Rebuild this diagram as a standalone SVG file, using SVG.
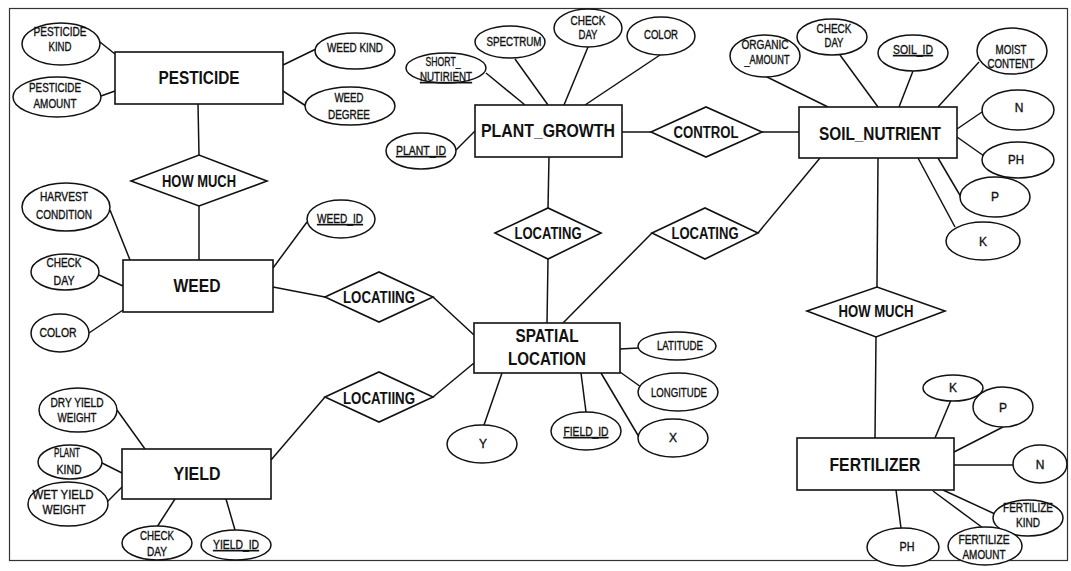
<svg xmlns="http://www.w3.org/2000/svg" width="1071" height="571" viewBox="0 0 1071 571">
  <style>
    .frame { fill: none; stroke: #333; stroke-width: 1.2; }
    .ent { fill: #fff; stroke: #111; stroke-width: 1.6; }
    .rel { fill: #fff; stroke: #111; stroke-width: 1.6; }
    .att { fill: #fff; stroke: #111; stroke-width: 1.5; }
    .links line { stroke: #111; stroke-width: 1.5; fill: none; }
    text { font-family: "Liberation Sans", Arial, sans-serif; fill: #111; text-anchor: middle; }
    .te { font-size: 18px; font-weight: bold; }
    .tr { font-size: 16px; font-weight: bold; }
    .ta { font-size: 12px; stroke: #111; stroke-width: 0.35; }
    .key { text-decoration: underline; }
  </style>
  <rect width="1071" height="571" fill="#fff"/>
  <rect class="frame" x="9.5" y="8.5" width="1058" height="552"/>

  <!-- connectors -->
  <g id="connectors" class="links">
    <!-- pesticide -->
    <line x1="100" y1="42" x2="115" y2="54"/>
    <line x1="101" y1="96" x2="115" y2="91"/>
    <line x1="283" y1="65" x2="316" y2="49"/>
    <line x1="283" y1="91" x2="306" y2="106"/>
    <line x1="198" y1="104" x2="199" y2="155"/>
    <line x1="199" y1="206" x2="199" y2="260"/>
    <!-- weed -->
    <line x1="110" y1="210" x2="130" y2="260"/>
    <line x1="99" y1="275" x2="123" y2="286"/>
    <line x1="89" y1="333" x2="123" y2="310"/>
    <line x1="273" y1="268" x2="307" y2="222"/>
    <line x1="273" y1="287" x2="325" y2="297"/>
    <line x1="433" y1="297" x2="474" y2="335"/>
    <!-- plant growth -->
    <line x1="486" y1="73" x2="525" y2="105"/>
    <line x1="515" y1="59" x2="548" y2="105"/>
    <line x1="588" y1="47" x2="564" y2="105"/>
    <line x1="660" y1="55" x2="585" y2="105"/>
    <line x1="456" y1="150" x2="475" y2="131"/>
    <line x1="622" y1="132" x2="651" y2="132"/>
    <line x1="549" y1="157" x2="548" y2="208"/>
    <line x1="548" y1="259" x2="547" y2="323"/>
    <!-- soil nutrient -->
    <line x1="762" y1="132" x2="799" y2="132"/>
    <line x1="765" y1="76" x2="828" y2="107"/>
    <line x1="840" y1="55" x2="878" y2="107"/>
    <line x1="913" y1="71" x2="899" y2="107"/>
    <line x1="979" y1="62" x2="938" y2="107"/>
    <line x1="982" y1="112" x2="957" y2="129"/>
    <line x1="957" y1="137" x2="984" y2="156"/>
    <line x1="938" y1="158" x2="961" y2="197"/>
    <line x1="918" y1="158" x2="955" y2="227"/>
    <line x1="820" y1="158" x2="758" y2="233"/>
    <line x1="652" y1="233" x2="563" y2="323"/>
    <line x1="878" y1="158" x2="877" y2="287"/>
    <line x1="876" y1="337" x2="875" y2="438"/>
    <!-- fertilizer -->
    <line x1="951" y1="400" x2="935" y2="438"/>
    <line x1="1003" y1="427" x2="954" y2="452"/>
    <line x1="954" y1="465" x2="1013" y2="465"/>
    <line x1="943" y1="490" x2="995" y2="514"/>
    <line x1="933" y1="491" x2="983" y2="528"/>
    <line x1="896" y1="490" x2="901" y2="528"/>
    <!-- spatial location -->
    <line x1="620" y1="349" x2="638" y2="348"/>
    <line x1="620" y1="372" x2="641" y2="387"/>
    <line x1="601" y1="373" x2="639" y2="437"/>
    <line x1="581" y1="373" x2="586" y2="412"/>
    <line x1="502" y1="373" x2="484" y2="425"/>
    <line x1="433" y1="397" x2="474" y2="363"/>
    <!-- yield -->
    <line x1="271" y1="460" x2="325" y2="397"/>
    <line x1="117" y1="410" x2="145" y2="449"/>
    <line x1="102" y1="463" x2="122" y2="473"/>
    <line x1="107" y1="502" x2="122" y2="487"/>
    <line x1="157" y1="527" x2="175" y2="499"/>
    <line x1="235" y1="530" x2="226" y2="499"/>
  </g>

  <!-- PESTICIDE -->
  <g id="pesticide">
    <rect class="ent" x="115" y="52" width="168" height="52"/>
    <text class="te" x="199" y="84" textLength="81" lengthAdjust="spacingAndGlyphs">PESTICIDE</text>
  </g>
  <g id="pesticide-kind">
    <ellipse class="att" cx="61" cy="44" rx="39" ry="21"/>
    <text class="ta" x="60" y="36" textLength="53" lengthAdjust="spacingAndGlyphs">PESTICIDE</text>
    <text class="ta" x="60" y="51" textLength="23" lengthAdjust="spacingAndGlyphs">KIND</text>
  </g>
  <g id="pesticide-amount">
    <ellipse class="att" cx="57" cy="97" rx="44" ry="20"/>
    <text class="ta" x="55" y="92" textLength="52" lengthAdjust="spacingAndGlyphs">PESTICIDE</text>
    <text class="ta" x="55" y="108" textLength="43" lengthAdjust="spacingAndGlyphs">AMOUNT</text>
  </g>
  <g id="weed-kind">
    <ellipse class="att" cx="355" cy="51" rx="40" ry="18"/>
    <text class="ta" x="355" y="52" textLength="56" lengthAdjust="spacingAndGlyphs">WEED KIND</text>
  </g>
  <g id="weed-degree">
    <ellipse class="att" cx="350" cy="106" rx="45" ry="19"/>
    <text class="ta" x="349" y="102" textLength="29" lengthAdjust="spacingAndGlyphs">WEED</text>
    <text class="ta" x="349" y="119" textLength="42" lengthAdjust="spacingAndGlyphs">DEGREE</text>
  </g>
  <g id="how-much-1">
    <polygon class="rel" points="131,181 199,155 267,181 199,206"/>
    <text class="tr" x="199" y="187" textLength="74" lengthAdjust="spacingAndGlyphs">HOW MUCH</text>
  </g>

  <!-- WEED -->
  <g id="weed">
    <rect class="ent" x="123" y="260" width="150" height="52"/>
    <text class="te" x="197" y="292" textLength="47" lengthAdjust="spacingAndGlyphs">WEED</text>
  </g>
  <g id="harvest-condition">
    <ellipse class="att" cx="66" cy="207" rx="44" ry="24"/>
    <text class="ta" x="64" y="201" textLength="48" lengthAdjust="spacingAndGlyphs">HARVEST</text>
    <text class="ta" x="64" y="219" textLength="56" lengthAdjust="spacingAndGlyphs">CONDITION</text>
  </g>
  <g id="weed-check-day">
    <ellipse class="att" cx="65" cy="272" rx="34" ry="18"/>
    <text class="ta" x="64" y="267" textLength="35" lengthAdjust="spacingAndGlyphs">CHECK</text>
    <text class="ta" x="64" y="285" textLength="21" lengthAdjust="spacingAndGlyphs">DAY</text>
  </g>
  <g id="weed-color">
    <ellipse class="att" cx="60" cy="333" rx="29" ry="19"/>
    <text class="ta" x="58" y="337" textLength="37" lengthAdjust="spacingAndGlyphs">COLOR</text>
  </g>
  <g id="weed-id">
    <ellipse class="att" cx="341" cy="219" rx="34" ry="19"/>
    <text class="ta key" x="340" y="223" textLength="46" lengthAdjust="spacingAndGlyphs">WEED_ID</text>
  </g>
  <g id="locating-weed">
    <polygon class="rel" points="325,297 379,272 433,297 379,322"/>
    <text class="tr" x="379" y="303" textLength="72" lengthAdjust="spacingAndGlyphs">LOCATIING</text>
  </g>

  <!-- PLANT_GROWTH -->
  <g id="plant-growth">
    <rect class="ent" x="475" y="105" width="147" height="52"/>
    <text class="te" x="548" y="137" textLength="134" lengthAdjust="spacingAndGlyphs">PLANT_GROWTH</text>
  </g>
  <g id="short-nutirient">
    <ellipse class="att" cx="446" cy="68" rx="40" ry="15"/>
    <text class="ta" x="443" y="66" textLength="35" lengthAdjust="spacingAndGlyphs">SHORT_</text>
    <text class="ta key" x="446" y="81" textLength="52" lengthAdjust="spacingAndGlyphs">NUTIRIENT</text>
  </g>
  <g id="spectrum">
    <ellipse class="att" cx="510" cy="42" rx="35" ry="16"/>
    <text class="ta" x="514" y="46" textLength="55" lengthAdjust="spacingAndGlyphs">SPECTRUM</text>
  </g>
  <g id="plant-check-day">
    <ellipse class="att" cx="588" cy="28" rx="34" ry="19"/>
    <text class="ta" x="588" y="25" textLength="35" lengthAdjust="spacingAndGlyphs">CHECK</text>
    <text class="ta" x="588" y="39" textLength="19" lengthAdjust="spacingAndGlyphs">DAY</text>
  </g>
  <g id="plant-color">
    <ellipse class="att" cx="661" cy="36" rx="34" ry="19"/>
    <text class="ta" x="661" y="39" textLength="34" lengthAdjust="spacingAndGlyphs">COLOR</text>
  </g>
  <g id="plant-id">
    <ellipse class="att" cx="421" cy="151" rx="35" ry="18"/>
    <text class="ta key" x="421" y="155" textLength="50" lengthAdjust="spacingAndGlyphs">PLANT_ID</text>
  </g>
  <g id="locating-plant">
    <polygon class="rel" points="495,233 548,208 601,233 548,259"/>
    <text class="tr" x="548" y="239" textLength="67" lengthAdjust="spacingAndGlyphs">LOCATING</text>
  </g>
  <g id="control">
    <polygon class="rel" points="651,132 706,107 762,132 706,157"/>
    <text class="tr" x="706" y="138" textLength="65" lengthAdjust="spacingAndGlyphs">CONTROL</text>
  </g>

  <!-- SOIL_NUTRIENT -->
  <g id="soil-nutrient">
    <rect class="ent" x="799" y="107" width="158" height="51"/>
    <text class="te" x="880" y="140" textLength="122" lengthAdjust="spacingAndGlyphs">SOIL_NUTRIENT</text>
  </g>
  <g id="organic-amount">
    <ellipse class="att" cx="765" cy="56" rx="35" ry="21"/>
    <text class="ta" x="765" y="49" textLength="47" lengthAdjust="spacingAndGlyphs">ORGANIC</text>
    <text class="ta" x="767" y="64" textLength="45" lengthAdjust="spacingAndGlyphs">_AMOUNT</text>
  </g>
  <g id="soil-check-day">
    <ellipse class="att" cx="832" cy="37" rx="35" ry="18"/>
    <text class="ta" x="834" y="33" textLength="35" lengthAdjust="spacingAndGlyphs">CHECK</text>
    <text class="ta" x="834" y="47" textLength="19" lengthAdjust="spacingAndGlyphs">DAY</text>
  </g>
  <g id="soil-id">
    <ellipse class="att" cx="913" cy="53" rx="35" ry="18"/>
    <text class="ta key" x="913" y="54" textLength="40" lengthAdjust="spacingAndGlyphs">SOIL_ID</text>
  </g>
  <g id="moist-content">
    <ellipse class="att" cx="1012" cy="51" rx="35" ry="23"/>
    <text class="ta" x="1011" y="54" textLength="31" lengthAdjust="spacingAndGlyphs">MOIST</text>
    <text class="ta" x="1011" y="68" textLength="47" lengthAdjust="spacingAndGlyphs">CONTENT</text>
  </g>
  <g id="soil-n">
    <ellipse class="att" cx="1018" cy="110" rx="36" ry="20"/>
    <text class="ta" x="1019" y="112">N</text>
  </g>
  <g id="soil-ph">
    <ellipse class="att" cx="1018" cy="160" rx="36" ry="18"/>
    <text class="ta" x="1016" y="164" textLength="16" lengthAdjust="spacingAndGlyphs">PH</text>
  </g>
  <g id="soil-p">
    <ellipse class="att" cx="995" cy="197" rx="35" ry="20"/>
    <text class="ta" x="995" y="201">P</text>
  </g>
  <g id="soil-k">
    <ellipse class="att" cx="983" cy="241" rx="37" ry="19"/>
    <text class="ta" x="983" y="246">K</text>
  </g>
  <g id="locating-soil">
    <polygon class="rel" points="652,233 705,208 758,233 705,259"/>
    <text class="tr" x="705" y="239" textLength="67" lengthAdjust="spacingAndGlyphs">LOCATING</text>
  </g>
  <g id="how-much-2">
    <polygon class="rel" points="807,311 877,287 945,311 876,337"/>
    <text class="tr" x="876" y="317" textLength="75" lengthAdjust="spacingAndGlyphs">HOW MUCH</text>
  </g>

  <!-- FERTILIZER -->
  <g id="fertilizer">
    <rect class="ent" x="797" y="438" width="157" height="52"/>
    <text class="te" x="875" y="471" textLength="91" lengthAdjust="spacingAndGlyphs">FERTILIZER</text>
  </g>
  <g id="fert-k">
    <ellipse class="att" cx="953" cy="388" rx="30" ry="13"/>
    <text class="ta" x="953" y="392">K</text>
  </g>
  <g id="fert-p">
    <ellipse class="att" cx="1003" cy="407" rx="30" ry="20"/>
    <text class="ta" x="1003" y="412">P</text>
  </g>
  <g id="fert-n">
    <ellipse class="att" cx="1040" cy="464" rx="27" ry="19"/>
    <text class="ta" x="1040" y="469">N</text>
  </g>
  <g id="fertilize-kind">
    <ellipse class="att" cx="1028" cy="518" rx="35" ry="18"/>
    <text class="ta" x="1028" y="512" textLength="50" lengthAdjust="spacingAndGlyphs">FERTILIZE</text>
    <text class="ta" x="1028" y="527" textLength="24" lengthAdjust="spacingAndGlyphs">KIND</text>
  </g>
  <g id="fertilize-amount">
    <ellipse class="att" cx="985" cy="546" rx="37" ry="19"/>
    <text class="ta" x="984" y="544" textLength="51" lengthAdjust="spacingAndGlyphs">FERTILIZE</text>
    <text class="ta" x="984" y="559" textLength="43" lengthAdjust="spacingAndGlyphs">AMOUNT</text>
  </g>
  <g id="fert-ph">
    <ellipse class="att" cx="903" cy="547" rx="36" ry="19"/>
    <text class="ta" x="907" y="551" textLength="15" lengthAdjust="spacingAndGlyphs">PH</text>
  </g>

  <!-- SPATIAL LOCATION -->
  <g id="spatial-location">
    <rect class="ent" x="474" y="323" width="146" height="50"/>
    <text class="te" x="547" y="342" textLength="63" lengthAdjust="spacingAndGlyphs">SPATIAL</text>
    <text class="te" x="547" y="365" textLength="78" lengthAdjust="spacingAndGlyphs">LOCATION</text>
  </g>
  <g id="latitude">
    <ellipse class="att" cx="677" cy="346" rx="39" ry="14"/>
    <text class="ta" x="680" y="350" textLength="46" lengthAdjust="spacingAndGlyphs">LATITUDE</text>
  </g>
  <g id="longitude">
    <ellipse class="att" cx="678" cy="392" rx="40" ry="19"/>
    <text class="ta" x="679" y="397" textLength="56" lengthAdjust="spacingAndGlyphs">LONGITUDE</text>
  </g>
  <g id="coord-x">
    <ellipse class="att" cx="673" cy="438" rx="35" ry="19"/>
    <text class="ta" x="673" y="442">X</text>
  </g>
  <g id="field-id">
    <ellipse class="att" cx="586" cy="431" rx="35" ry="19"/>
    <text class="ta key" x="586" y="436" textLength="45" lengthAdjust="spacingAndGlyphs">FIELD_ID</text>
  </g>
  <g id="coord-y">
    <ellipse class="att" cx="482" cy="444" rx="35" ry="19"/>
    <text class="ta" x="483" y="448">Y</text>
  </g>
  <g id="locating-yield">
    <polygon class="rel" points="325,397 379,372 433,397 379,422"/>
    <text class="tr" x="379" y="404" textLength="72" lengthAdjust="spacingAndGlyphs">LOCATIING</text>
  </g>

  <!-- YIELD -->
  <g id="yield">
    <rect class="ent" x="122" y="449" width="149" height="50"/>
    <text class="te" x="197" y="480" textLength="47" lengthAdjust="spacingAndGlyphs">YIELD</text>
  </g>
  <g id="dry-yield-weight">
    <ellipse class="att" cx="78" cy="410" rx="39" ry="22"/>
    <text class="ta" x="77" y="407" textLength="53" lengthAdjust="spacingAndGlyphs">DRY YIELD</text>
    <text class="ta" x="77" y="422" textLength="39" lengthAdjust="spacingAndGlyphs">WEIGHT</text>
  </g>
  <g id="plant-kind">
    <ellipse class="att" cx="70" cy="462" rx="32" ry="17"/>
    <text class="ta" x="67" y="457" textLength="26" lengthAdjust="spacingAndGlyphs">PLANT</text>
    <text class="ta" x="69" y="474" textLength="25" lengthAdjust="spacingAndGlyphs">KIND</text>
  </g>
  <g id="wet-yield-weight">
    <ellipse class="att" cx="68" cy="504" rx="40" ry="22"/>
    <text class="ta" x="63" y="499" textLength="61" lengthAdjust="spacingAndGlyphs">WET YIELD</text>
    <text class="ta" x="64" y="514" textLength="43" lengthAdjust="spacingAndGlyphs">WEIGHT</text>
  </g>
  <g id="yield-check-day">
    <ellipse class="att" cx="157" cy="543" rx="35" ry="17"/>
    <text class="ta" x="157" y="540" textLength="34" lengthAdjust="spacingAndGlyphs">CHECK</text>
    <text class="ta" x="157" y="556" textLength="20" lengthAdjust="spacingAndGlyphs">DAY</text>
  </g>
  <g id="yield-id">
    <ellipse class="att" cx="236" cy="545" rx="35" ry="15"/>
    <text class="ta key" x="236" y="549" textLength="46" lengthAdjust="spacingAndGlyphs">YIELD_ID</text>
  </g>
</svg>
